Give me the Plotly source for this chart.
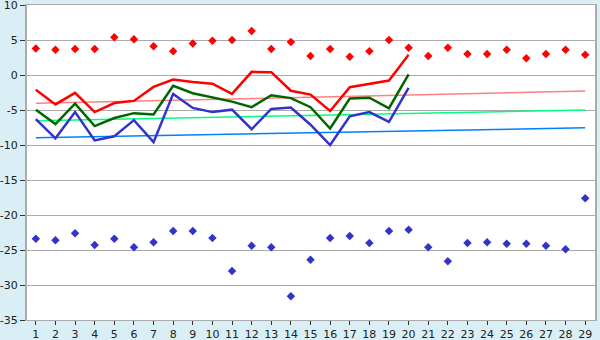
import plotly.graph_objects as go

cats = list(range(1, 30))
line_x = list(range(1, 21))

red_top = [3.8, 3.6, 3.7, 3.7, 5.4, 5.1, 4.1, 3.4, 4.5, 4.9, 5.0, 6.3, 3.7, 4.7, 2.7,
           3.7, 2.6, 3.4, 5.0, 3.9, 2.7, 3.9, 3.0, 3.0, 3.6, 2.4, 3.0, 3.6, 2.9]
blue_bottom = [-23.4, -23.6, -22.6, -24.3, -23.4, -24.6, -23.9, -22.3, -22.3, -23.3,
               -28.0, -24.4, -24.6, -31.6, -26.4, -23.3, -23.0, -24.0, -22.3, -22.1,
               -24.6, -26.6, -24.0, -23.9, -24.1, -24.1, -24.4, -24.9, -17.6]

red_line = [-2.1, -4.2, -2.55, -5.3, -4.0, -3.7, -1.7, -0.65, -1.0, -1.25, -2.7, 0.45,
            0.4, -2.25, -2.8, -5.15, -1.75, -1.3, -0.8, 2.9]
green_line = [-4.95, -7.0, -4.1, -7.3, -6.15, -5.45, -5.65, -1.55, -2.6, -3.15, -3.8,
              -4.6, -2.9, -3.3, -4.6, -7.65, -3.35, -3.25, -4.75, 0.1]
blue_line = [-6.3, -9.05, -5.3, -9.35, -8.75, -6.45, -9.6, -2.7, -4.7, -5.3, -4.95,
             -7.75, -4.85, -4.65, -7.1, -10.0, -5.9, -5.3, -6.7, -1.85]

trend_x = [1, 29]
trend_red = [-4.05, -2.3]
trend_green = [-6.55, -5.0]
trend_blue = [-8.95, -7.55]

y_ticks = [10, 5, 0, -5, -10, -15, -20, -25, -30, -35]

fig = go.Figure()
fig.add_trace(go.Scatter(x=trend_x, y=trend_red, mode="lines",
                         line=dict(color="#ff8080", width=1.5)))
fig.add_trace(go.Scatter(x=trend_x, y=trend_green, mode="lines",
                         line=dict(color="#00ff80", width=1.5)))
fig.add_trace(go.Scatter(x=trend_x, y=trend_blue, mode="lines",
                         line=dict(color="#0080ff", width=1.5)))
fig.add_trace(go.Scatter(x=line_x, y=red_line, mode="lines",
                         line=dict(color="#ff0000", width=2.5)))
fig.add_trace(go.Scatter(x=line_x, y=green_line, mode="lines",
                         line=dict(color="#006600", width=2.5)))
fig.add_trace(go.Scatter(x=line_x, y=blue_line, mode="lines",
                         line=dict(color="#3333cc", width=2.5)))
fig.add_trace(go.Scatter(x=cats, y=red_top, mode="markers",
                         marker=dict(symbol="diamond", size=6.5, color="#ff0000")))
fig.add_trace(go.Scatter(x=cats, y=blue_bottom, mode="markers",
                         marker=dict(symbol="diamond", size=6.5, color="#3333cc")))

fig.update_layout(
    width=600, height=340,
    margin=dict(l=27, r=5, t=5, b=20),
    paper_bgcolor="#daeff5",
    plot_bgcolor="#ffffff",
    showlegend=False,
    font=dict(family="DejaVu Sans", size=11, color="#222222"),
    xaxis=dict(range=[0.55, 29.5], tickvals=cats, ticktext=[str(c) for c in cats],
               showgrid=False, zeroline=False, ticks="outside", ticklen=4,
               tickcolor="#333333", showline=True, linecolor="#aaaaaa", linewidth=1,
               mirror=True, automargin=False, ticklabeloverflow="allow"),
    yaxis=dict(range=[-35, 10], tickvals=y_ticks,
               ticktext=[str(v) for v in y_ticks],
               showgrid=True, gridcolor="#aaaaaa", gridwidth=1, zeroline=False,
               ticks="outside", ticklen=5, tickcolor="#333333",
               showline=True, linecolor="#aaaaaa", linewidth=2, mirror=True,
               automargin=False, ticklabeloverflow="allow"),
)
fig.write_html("out.html")
